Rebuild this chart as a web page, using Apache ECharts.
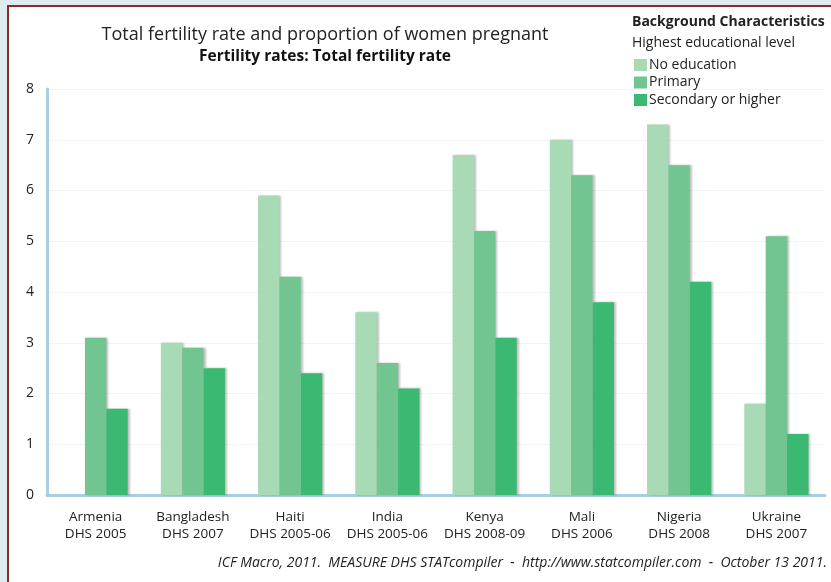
<!DOCTYPE html>
<html>
<head>
<meta charset="utf-8">
<script src="https://cdn.jsdelivr.net/npm/echarts@6/dist/echarts.min.js"></script>
<style>
  html, body { margin: 0; padding: 0; background: #dfeaf1; }
  #chart { width: 831px; height: 582px; }
</style>
</head>
<body>
<div id="chart"></div>
<script>
// data
const categories = [
  'Armenia\nDHS 2005', 'Bangladesh\nDHS 2007', 'Haiti\nDHS 2005-06', 'India\nDHS 2005-06',
  'Kenya\nDHS 2008-09', 'Mali\nDHS 2006', 'Nigeria\nDHS 2008', 'Ukraine\nDHS 2007'
];
const noEducation = ['-', 3.0, 5.9, 3.6, 6.7, 7.0, 7.3, 1.8];
const primary = [3.1, 2.9, 4.3, 2.6, 5.2, 6.3, 6.5, 5.1];
const secondary = [1.7, 2.5, 2.4, 2.1, 3.1, 3.8, 4.2, 1.2];
const seriesNames = ['No education', 'Primary', 'Secondary or higher'];
const colors = ['#a9dab6', '#72c591', '#3bb872'];

const chart = echarts.init(document.getElementById('chart'));
const font = '"Open Sans", sans-serif';

const mkSeries = (name, data, i) => ({
  name: name,
  type: 'bar',
  data: data,
  barGap: '0%',
  barCategoryGap: '34%',
  itemStyle: {
    color: colors[i],
    shadowColor: 'rgba(0,0,0,0.25)',
    shadowOffsetX: 2,
    shadowBlur: 2
  }
});

const option = {
  textStyle: { fontFamily: font },
  animation: false,
  graphic: [
    {
      type: 'rect',
      z: -10,
      shape: { x: 8, y: 6, width: 840, height: 600 },
      style: { fill: '#ffffff', stroke: '#8c2a2a', lineWidth: 2 }
    },
    {
      type: 'text',
      left: 632, top: 15,
      style: { text: 'Background Characteristics', font: 'bold 14px ' + font, fill: '#222' }
    },
    {
      type: 'text',
      left: 632, top: 36,
      style: { text: 'Highest educational level', font: '14px ' + font, fill: '#222' }
    },
    {
      type: 'text',
      right: 4, top: 556,
      style: {
        text: 'ICF Macro, 2011.  MEASURE DHS STATcompiler  -  http://www.statcompiler.com  -  October 13 2011.',
        font: 'italic 14px ' + font, fill: '#222'
      }
    }
  ],
  title: {
    text: 'Total fertility rate and proportion of women pregnant',
    subtext: 'Fertility rates: Total fertility rate',
    left: 320,
    textAlign: 'center',
    top: 21,
    itemGap: 5,
    textStyle: { fontFamily: font, fontSize: 18, fontWeight: 'normal', color: '#222' },
    subtextStyle: { fontFamily: font, fontSize: 15.5, fontWeight: 'bold', color: '#111' }
  },
  legend: {
    data: seriesNames,
    orient: 'vertical',
    left: 629,
    top: 53,
    itemWidth: 13,
    itemHeight: 12,
    itemGap: 3.5,
    icon: 'rect',
    textStyle: { fontFamily: font, fontSize: 14, color: '#222', padding: [0, 0, 0, -3] }
  },
  grid: { left: 47, right: 6, top: 89, bottom: 87 },
  xAxis: {
    type: 'category',
    data: categories,
    axisLine: { lineStyle: { color: '#a9cde4', width: 3 } },
    axisTick: { show: false },
    axisLabel: { color: '#222', fontSize: 13.5, lineHeight: 16.5, margin: 14, interval: 0 }
  },
  yAxis: {
    type: 'value',
    min: 0,
    max: 8,
    interval: 1,
    axisLine: { show: true, lineStyle: { color: '#a9cde4', width: 3 } },
    axisTick: { show: false },
    axisLabel: { color: '#222', fontSize: 14, margin: 13 },
    splitLine: { lineStyle: { color: '#f1f4f6', width: 1 } }
  },
  series: [
    mkSeries(seriesNames[0], noEducation, 0),
    mkSeries(seriesNames[1], primary, 1),
    mkSeries(seriesNames[2], secondary, 2)
  ]
};

chart.setOption(option);
</script>
</body>
</html>
